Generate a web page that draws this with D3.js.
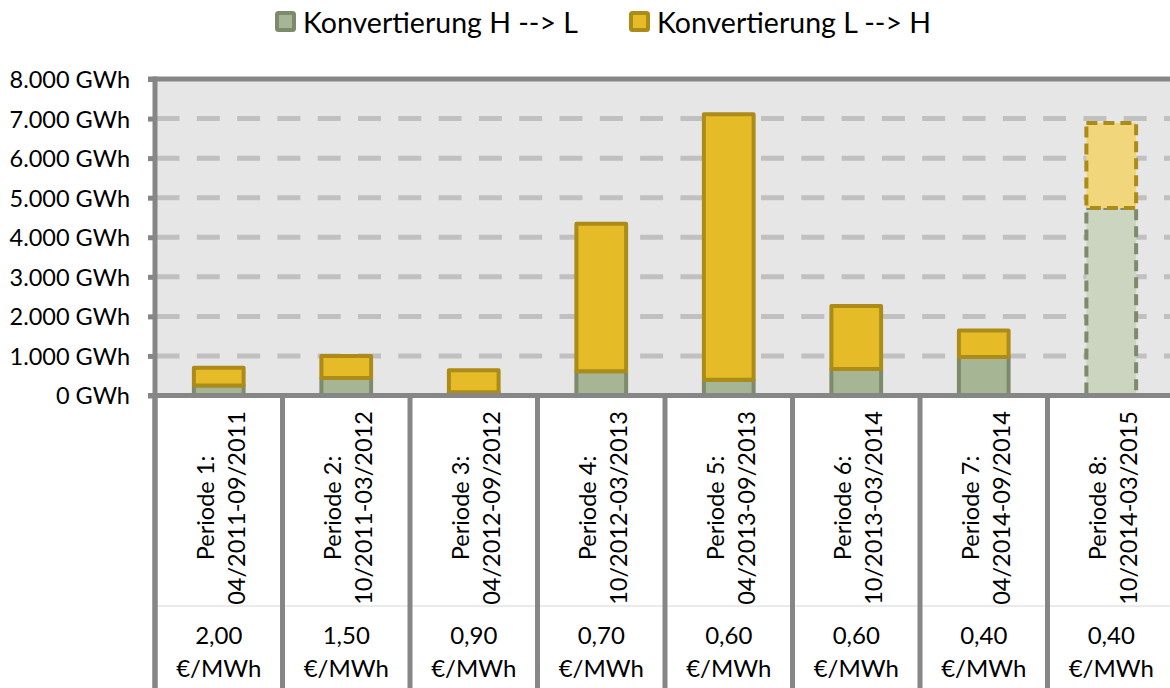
<!doctype html>
<html lang="de">
<head>
<meta charset="utf-8">
<title>Konvertierung</title>
<script src="https://cdnjs.cloudflare.com/ajax/libs/d3/7.8.5/d3.min.js"></script>
<style>
 body{margin:0;background:#fff;}
 svg{display:block;font-family:Lato,"Open Sans",sans-serif;}
</style>
</head>
<body>
<svg width="1170" height="688"></svg>
<script>
// data (GWh)
const categories=["P1","P2","P3","P4","P5","P6","P7","P8"];
const periodNames=["Periode 1:","Periode 2:","Periode 3:","Periode 4:","Periode 5:","Periode 6:","Periode 7:","Periode 8:"];
const periodDates=["04/2011-09/2011","10/2011-03/2012","04/2012-09/2012","10/2012-03/2013","04/2013-09/2013","10/2013-03/2014","04/2014-09/2014","10/2014-03/2015"];
const prices=["2,00","1,50","0,90","0,70","0,60","0,60","0,40","0,40"];
const hToL=[250,440,80,610,400,670,970,4740];
const lToH=[450,560,560,3730,6710,1590,670,2150];
const estimated=[false,false,false,false,false,false,false,true];
const yTicks=[0,1000,2000,3000,4000,5000,6000,7000,8000];
const seriesNames=["Konvertierung H --> L","Konvertierung L --> H"];

const svg=d3.select("svg");
const plotL=155, plotR=1175, plotT=79, plotB=395.5, svgH=688;
const axisCol="#868686";
const green={fill:"#a6b593",stroke:"#7d8a6c",fillE:"#ccd5bf"};
const yellow={fill:"#e5bb27",stroke:"#ad8b19",fillE:"#f2d67b"};

const de=d3.formatLocale({decimal:",",thousands:".",grouping:[3],currency:["","€"]});
const fmt=de.format(",");

const x=d3.scaleBand().domain(categories).range([plotL,plotR]);
const y=d3.scaleLinear().domain([0,8000]).range([plotB,plotT]);
const barW=x.bandwidth()*0.39;

// plot background
svg.append("rect").attr("x",plotL).attr("y",plotT).attr("width",plotR-plotL).attr("height",plotB-plotT).attr("fill","#e6e6e6");

// gridlines
svg.append("g").selectAll("line").data(yTicks.filter(d=>d>0&&d<8000)).join("line")
 .attr("x1",plotL+1.5).attr("x2",plotR).attr("y1",d=>y(d)).attr("y2",d=>y(d))
 .attr("stroke","#c0c0c0").attr("stroke-width",5).attr("stroke-dasharray","23,17.3");

// bars
const rows=categories.map((c,i)=>({c,g:hToL[i],l:lToH[i],e:estimated[i]}));
const bars=svg.append("g");
bars.selectAll(".g").data(rows).join("rect").attr("class","g")
 .attr("x",d=>x(d.c)+(x.bandwidth()-barW)/2).attr("width",barW)
 .attr("y",d=>y(d.g)).attr("height",d=>y(0)-y(d.g))
 .attr("fill",d=>d.e?green.fillE:green.fill).attr("stroke",green.stroke).attr("stroke-width",4)
 .attr("stroke-linejoin","round").attr("stroke-dasharray",d=>d.e?"11,6":null);
bars.selectAll(".l").data(rows).join("rect").attr("class","l")
 .attr("x",d=>x(d.c)+(x.bandwidth()-barW)/2).attr("width",barW)
 .attr("y",d=>y(d.g+d.l)).attr("height",d=>y(d.g)-y(d.g+d.l))
 .attr("fill",d=>d.e?yellow.fillE:yellow.fill).attr("stroke",yellow.stroke).attr("stroke-width",4)
 .attr("stroke-linejoin","round").attr("stroke-dasharray",d=>d.e?"11,6":null);

// table area below axis
svg.append("rect").attr("x",plotL).attr("y",plotB).attr("width",plotR-plotL).attr("height",svgH-plotB).attr("fill","#fff");
svg.append("line").attr("x1",plotL).attr("x2",plotR).attr("y1",606).attr("y2",606).attr("stroke","#d6d6d6").attr("stroke-width",1);
svg.append("g").selectAll("line").data(categories).join("line")
 .attr("x1",d=>x(d)).attr("x2",d=>x(d)).attr("y1",plotB).attr("y2",svgH)
 .attr("stroke",axisCol).attr("stroke-width",5);

// y axis
const yAxis=svg.append("g").attr("transform",`translate(${plotL},0)`)
 .call(d3.axisLeft(y).tickValues(yTicks).tickSize(7).tickPadding(18).tickFormat(d=>fmt(d)+" GWh"));
yAxis.select(".domain").remove();
yAxis.selectAll("line").attr("stroke",axisCol).attr("stroke-width",5);
yAxis.selectAll("text").attr("fill","#000").style("font-size","23.5px").style("font-family","Lato").attr("dy","0.36em");

// frame lines
svg.append("line").attr("x1",plotL).attr("x2",plotL).attr("y1",plotT-2.5).attr("y2",svgH).attr("stroke",axisCol).attr("stroke-width",5);
svg.append("line").attr("x1",plotL-7).attr("x2",plotR).attr("y1",plotT).attr("y2",plotT).attr("stroke",axisCol).attr("stroke-width",5);
svg.append("line").attr("x1",plotL-7).attr("x2",plotR).attr("y1",plotB).attr("y2",plotB).attr("stroke",axisCol).attr("stroke-width",5);

// category labels
const cat=svg.append("g").selectAll("g").data(categories).join("g")
 .attr("transform",d=>`translate(${x(d)+x.bandwidth()/2},508) rotate(-90)`);
const ct=cat.append("text").attr("text-anchor","middle").style("font-size","23.5px").attr("fill","#000");
ct.append("tspan").attr("x",0).attr("y",-5).text((d,i)=>periodNames[i]);
ct.append("tspan").attr("x",0).attr("y",26).text((d,i)=>periodDates[i]);

const pr=svg.append("g").selectAll("text").data(categories).join("text")
 .attr("text-anchor","middle").style("font-size","24px").attr("fill","#000")
 .attr("transform",d=>`translate(${x(d)+x.bandwidth()/2},0)`);
pr.append("tspan").attr("x",0).attr("y",644).text((d,i)=>prices[i]);
pr.append("tspan").attr("x",0).attr("y",677).text("€/MWh");

// legend
const legendX=[275,629];
const lg=svg.append("g").selectAll("g").data(seriesNames).join("g")
 .attr("transform",(d,i)=>`translate(${legendX[i]},0)`);
lg.append("rect").attr("x",2).attr("y",13).attr("width",17).attr("height",17).attr("rx",1.5)
 .attr("fill",(d,i)=>i?yellow.fill:green.fill).attr("stroke",(d,i)=>i?yellow.stroke:green.stroke).attr("stroke-width",4);
lg.append("text").attr("x",28).attr("y",33).style("font-size","28.5px").attr("fill","#000").text(d=>d);
</script>
</body>
</html>
